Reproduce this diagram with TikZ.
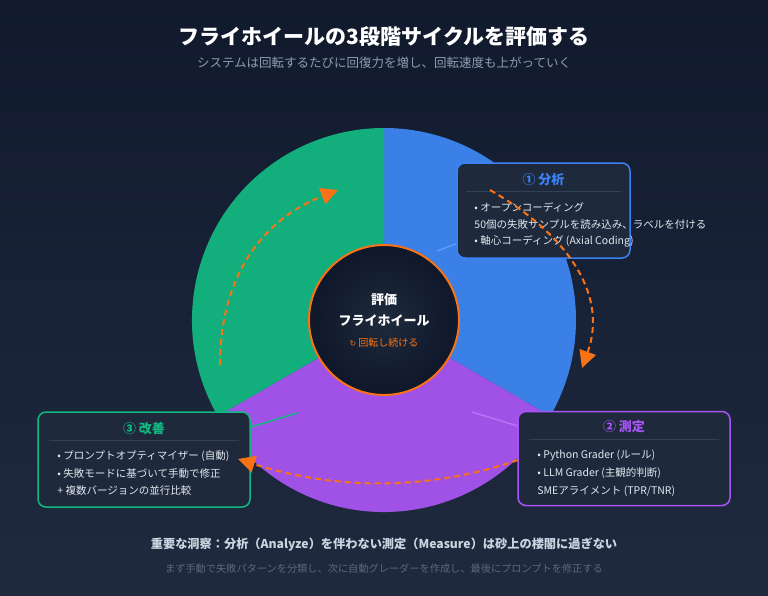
\documentclass[tikz,border=0pt]{standalone}
\usepackage{fontspec}
\setmainfont{Noto Sans CJK JP}
\newfontfamily\symfont{DejaVu Sans}
\usepackage{tikz}
\usetikzlibrary{arrows.meta,positioning}
\definecolor{bgtop}{HTML}{111A2D}
\definecolor{bgbot}{HTML}{1F2A3F}
\definecolor{segblue}{HTML}{3B80E6}
\definecolor{seggreen}{HTML}{12AE7B}
\definecolor{segpurple}{HTML}{A052E6}
\definecolor{flyorange}{HTML}{F97316}
\definecolor{boxfill}{HTML}{1E293B}
\definecolor{sepgray}{HTML}{334155}
\definecolor{txtlight}{HTML}{E2E8F0}
\definecolor{txtgray}{HTML}{8F9BB0}
\definecolor{txtinsight}{HTML}{CBD5E1}
\definecolor{txtdim}{HTML}{5B677A}
\definecolor{hubin}{HTML}{1F2A3D}
\definecolor{hubout}{HTML}{0F172A}
\definecolor{anacol}{HTML}{3B82F6}
\definecolor{meacol}{HTML}{A855F7}
\definecolor{impcol}{HTML}{10B981}
\definecolor{anaspoke}{HTML}{5C9BF8}
\definecolor{measpoke}{HTML}{B673F6}
\definecolor{impspoke}{HTML}{14B884}

\begin{document}
\begin{tikzpicture}[x=1pt,y=-1pt,>={Triangle[length=17pt,width=17pt]},
		flow/.style={->,draw=flyorange,line width=2pt,dash pattern=on 6pt off 4pt},
		spoke/.style={line width=1.5pt},
		stagebox/.style={rectangle,rounded corners=8pt,fill=boxfill,line width=1.5pt,minimum width=212pt,minimum height=94pt},
		stagetitle/.style={font=\bfseries\fontsize{13}{15}\selectfont},
		sepline/.style={draw=sepgray,line width=0.8pt},
		item/.style={anchor=west,inner sep=0pt,text=txtlight,font=\fontsize{10.5}{12}\selectfont}]
		\tikzstyle{hubdisc}=[circle,minimum size=150pt,draw=flyorange,line width=2pt,inner color=hubin,outer color=hubout,text=white,align=center,font=\bfseries\fontsize{13}{21}\selectfont]
		
		\useasboundingbox (0,0) rectangle (768,595);
		\shade[top color=bgtop,bottom color=bgbot] (0,0) rectangle (768,595);
		
		\node[text=white,font=\bfseries\fontsize{21}{25}\selectfont] (title) at (384,37) {フライホイールの3段階サイクルを評価する};
		\node[text=txtgray,font=\fontsize{12.5}{14}\selectfont] (subtitle) at (384,63) {システムは回転するたびに回復力を増し、回転速度も上がっていく};
		
		\coordinate (hubc) at (384,320);
		\fill[segblue] (hubc) -- ++(-90:192) arc[start angle=-90,end angle=30,radius=192] -- cycle;
		\fill[segpurple] (hubc) -- ++(30:192) arc[start angle=30,end angle=150,radius=192] -- cycle;
		\fill[seggreen] (hubc) -- ++(150:192) arc[start angle=150,end angle=270,radius=192] -- cycle;
		
		\coordinate (anaFoot) at (437,251);
		\coordinate (meaFoot) at (472,412);
		\coordinate (impFoot) at (297,413);
		\coordinate (anaC) at (543.5,210.5);
		\coordinate (meaC) at (624,458.5);
		\coordinate (impC) at (144,459.5);
		\draw[spoke,draw=anaspoke] (anaFoot) -- (anaC);
		\draw[spoke,draw=measpoke] (meaFoot) -- (meaC);
		\draw[spoke,draw=impspoke] (impFoot) -- (impC);
		
		\node[hubdisc] (hub) at (hubc) {評価\\フライホイール\\{\mdseries\fontsize{10}{12}\selectfont\color{flyorange}{\symfont\fontsize{8}{10}\selectfont ↻} 回転し続ける}};
		
		\node[stagebox,draw=anacol,minimum width=173pt,minimum height=95pt] (anaBox) at (anaC) {};
		\node[stagetitle,text=anacol] (anaTitle) at ([yshift=-17pt]anaBox.north) {① 分析};
		\draw[sepline] ([xshift=10pt,yshift=-29pt]anaBox.north west) -- ([xshift=-10pt,yshift=-29pt]anaBox.north east);
		\node[item] (ana1) at ([xshift=18pt,yshift=-45pt]anaBox.north west) {• オープンコーディング};
		\node[item] (ana2) at ([yshift=-17pt]ana1.west) {50個の失敗サンプルを読み込み、ラベルを付ける};
		\node[item] (ana3) at ([yshift=-17pt]ana2.west) {• 軸心コーディング (Axial Coding)};
		
		\node[stagebox,draw=meacol] (meaBox) at (meaC) {};
		\node[stagetitle,text=meacol] (meaTitle) at ([yshift=-16pt]meaBox.north) {② 測定};
		\draw[sepline] ([xshift=12pt,yshift=-29pt]meaBox.north west) -- ([xshift=-12pt,yshift=-29pt]meaBox.north east);
		\node[item] (mea1) at ([xshift=20pt,yshift=-45pt]meaBox.north west) {• Python Grader (ルール)};
		\node[item] (mea2) at ([yshift=-17.5pt]mea1.west) {• LLM Grader (主観的判断)};
		\node[item] (mea3) at ([yshift=-17.5pt]mea2.west) {SMEアライメント (TPR/TNR)};
		
		\node[stagebox,draw=impcol,minimum height=95pt] (impBox) at (impC) {};
		\node[stagetitle,text=impcol] (impTitle) at ([yshift=-17pt]impBox.north) {③ 改善};
		\draw[sepline] ([xshift=12pt,yshift=-29pt]impBox.north west) -- ([xshift=-12pt,yshift=-29pt]impBox.north east);
		\node[item] (imp1) at ([xshift=20pt,yshift=-45pt]impBox.north west) {• プロンプトオプティマイザー (自動)};
		\node[item] (imp2) at ([yshift=-17pt]imp1.west) {• 失敗モードに基づいて手動で修正};
		\node[item] (imp3) at ([yshift=-17pt]imp2.west) {+ 複数バージョンの並行比較};
		
		\coordinate (f1s) at (490,190);
		\coordinate (f1e) at (582,368);
		\coordinate (f2s) at (518,460);
		\coordinate (f2e) at (238,459);
		\coordinate (f3s) at (220,365);
		\coordinate (f3e) at (338,190);
		\draw[flow] (f1s) .. controls (560,230) and (610,290) .. (f1e);
		\draw[flow] (f2s) .. controls (428.7,490.7) and (336,490.3) .. (f2e);
		\draw[flow] (f3s) .. controls (220,280.3) and (258.7,221.3) .. (f3e);
		
		\node[text=txtinsight,font=\bfseries\fontsize{12.2}{14}\selectfont] (insight) at (384,544) {重要な洞察：分析（Analyze）を伴わない測定（Measure）は砂上の楼閣に過ぎない};
		\node[text=txtdim,font=\fontsize{10.2}{12}\selectfont] (hint) at (384,569) {まず手動で失敗パターンを分類し、次に自動グレーダーを作成し、最後にプロンプトを修正する};
\end{tikzpicture}
\end{document}
